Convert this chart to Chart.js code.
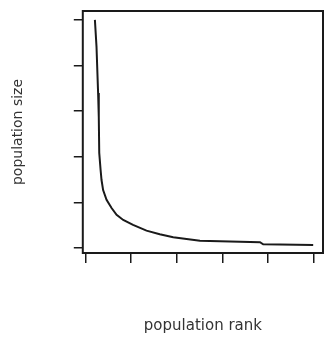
<!DOCTYPE html>
<html>
<head>
<meta charset="utf-8">
<script src="https://cdn.jsdelivr.net/npm/chart.js@4"></script>
<style>
  body { margin: 0; background: #fff; }
  #box { width: 325px; height: 337px; }
</style>
</head>
<body>
<div id="box"><canvas id="rankChart"></canvas></div>
<script>
// rank of each population and its size
const ranks = [4.1, 4.8, 5.5, 5.8, 6.0, 6.6, 7.0, 7.7, 9.2, 11.4, 13.6, 16.5, 20.8, 26.7, 32.5, 38.4, 50.1, 76.4, 77.8, 99.7];
const sizes = [1000, 883, 680, 575, 417, 342, 298, 254, 211, 175, 145, 123, 101, 76, 60, 47, 32, 25, 16, 13];

// unlabelled tick marks
const xTicks = [0, 20, 40, 60, 80, 100];
const yTicks = [0, 200, 400, 600, 800, 1000];

const ink = '#1a1a1a';

// closed frame round the plot area
const frame = {
    id: 'frame',
    afterDraw(chart) {
        const a = chart.chartArea;
        const c = chart.ctx;
        c.save();
        c.strokeStyle = ink;
        c.lineWidth = 2;
        c.strokeRect(a.left, a.top, a.right - a.left, a.bottom - a.top);
        c.restore();
    }
};

const ctx = document.getElementById('rankChart').getContext('2d');
const rankChart = new Chart(ctx, {
    type: 'line',
    data: {
        datasets: [{
            data: ranks.map((r, i) => ({ x: r, y: sizes[i] })),
            borderColor: ink,
            borderWidth: 2,
            pointRadius: 0,
            tension: 0,
            fill: false
        }]
    },
    options: {
        responsive: true,
        maintainAspectRatio: false,
        animation: false,
        layout: { padding: { top: 11, right: 2, bottom: 2, left: 10 } },
        plugins: { legend: { display: false }, tooltip: { enabled: false } },
        scales: {
            x: {
                type: 'linear',
                min: -1.2,
                max: 104,
                afterBuildTicks: s => { s.ticks = xTicks.map(v => ({ value: v })); },
                ticks: { display: false },
                grid: { drawOnChartArea: false, drawTicks: true, tickLength: 10, color: ink, lineWidth: 1.5 },
                border: { display: false },
                title: {
                    display: true,
                    text: 'population rank',
                    color: '#333',
                    font: { family: 'DejaVu Sans', size: 15 },
                    padding: { top: 54, bottom: 0 }
                }
            },
            y: {
                min: -22,
                max: 1039,
                afterBuildTicks: s => { s.ticks = yTicks.map(v => ({ value: v })); },
                ticks: { display: false },
                grid: { drawOnChartArea: false, drawTicks: true, tickLength: 9, color: ink, lineWidth: 1.5 },
                border: { display: false },
                title: {
                    display: true,
                    text: 'population size',
                    color: '#333',
                    font: { family: 'DejaVu Sans', size: 14 },
                    padding: { top: 0, bottom: 47 }
                }
            }
        }
    },
    plugins: [frame]
});
</script>
</body>
</html>
